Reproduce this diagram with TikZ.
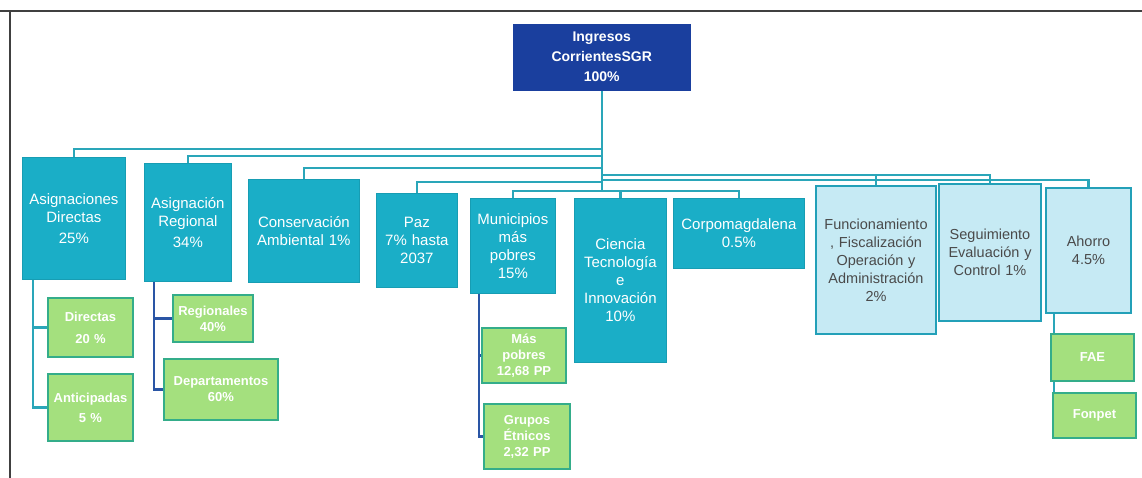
\documentclass[tikz,border=0pt]{standalone}
\usepackage{fontspec}
\setmainfont{Liberation Sans}
\usetikzlibrary{backgrounds}
\definecolor{tealbox}{HTML}{1AAEC7}
\definecolor{navybox}{HTML}{1A3F9E}
\definecolor{lbluefill}{HTML}{C6EAF4}
\definecolor{lblueline}{HTML}{23A0B8}
\definecolor{greenfill}{HTML}{A4E07E}
\definecolor{greenline}{HTML}{34AD8A}
\definecolor{connteal}{HTML}{2AA6B9}
\definecolor{conndark}{HTML}{2A55A5}
\definecolor{greytext}{HTML}{4A4A4A}
\newcommand\mybox[7]{%
  \pgfmathsetmacro\mybw{#5-#3}\pgfmathsetmacro\mybh{#6-#4}\pgfmathsetmacro\mytw{#5-#3-6}%
  \node[#2,anchor=north west,minimum width=\mybw pt,minimum height=\mybh pt,text width=\mytw pt] (#1) at (#3,#4) {#7};}
\begin{document}
\begin{tikzpicture}[x=1pt,y=-1pt,
  every node/.style={inner sep=1pt,align=center},
  rootstyle/.style={fill=navybox,draw=navybox,text=white,font=\fontsize{14}{20}\selectfont\bfseries},
  tealstyle/.style={fill=tealbox,draw=tealbox!90!black,line width=0.8pt,text=white,font=\fontsize{15}{18}\selectfont},
  lbluestyle/.style={fill=lbluefill,draw=lblueline,line width=2pt,text=greytext,font=\fontsize{14.5}{18}\selectfont},
  greenstyle/.style={fill=greenfill,draw=greenline,line width=2pt,text=white,font=\fontsize{13}{16}\selectfont\bfseries},
  link/.style={draw=connteal,line width=2.2pt},
  linkdark/.style={draw=conndark,line width=2.2pt}]
\useasboundingbox (0,0) rectangle (1142,478);
% root
\mybox{root}{rootstyle}{513}{24}{690}{90}{Ingresos\\CorrientesSGR\\100\%}
% first level
\mybox{a1}{tealstyle}{22}{157}{125}{279}{Asignaciones\\Directas\\[3pt]25\%}
\mybox{a2}{tealstyle}{144}{163}{231}{281}{Asignación\\Regional\\[3pt]34\%}
\mybox{a3}{tealstyle}{248}{179}{359}{282}{Conservación\\Ambiental 1\%}
\mybox{a4}{tealstyle}{376}{193}{457}{287}{Paz\\7\% hasta\\2037}
\mybox{a5}{tealstyle}{470}{198}{555}{293}{Municipios\\más\\pobres\\15\%}
\mybox{a6}{tealstyle}{574}{198}{666}{362}{Ciencia\\Tecnología\\e\\Innovación\\10\%}
\mybox{a7}{tealstyle}{673}{198}{804}{268}{Corpomagdalena\\0.5\%}
\mybox{a8}{lbluestyle}{815}{185}{935}{333}{Funcionamiento\\, Fiscalización\\Operación y\\Administración\\2\%}
\mybox{a9}{lbluestyle}{938}{183}{1040}{320}{Seguimiento\\Evaluación y\\Control 1\%}
\mybox{a10}{lbluestyle}{1045}{187}{1130}{312}{Ahorro\\4.5\%}
% second level
\mybox{g1}{greenstyle}{47}{297}{132}{356}{Directas\\[6pt]20 \%}
\mybox{g2}{greenstyle}{47}{373}{132}{440}{Anticipadas\\[4pt]5 \%}
\mybox{g3}{greenstyle}{172}{294}{252}{341}{Regionales\\40\%}
\mybox{g4}{greenstyle}{163}{358}{277}{419}{Departamentos\\60\%}
\mybox{g5}{greenstyle}{481}{327}{565}{382}{Más\\pobres\\12,68 PP}
\mybox{g6}{greenstyle}{483}{403}{569}{468}{Grupos\\Étnicos\\2,32 PP}
\mybox{g7}{greenstyle}{1050}{333}{1133}{380}{FAE}
\mybox{g8}{greenstyle}{1052}{392}{1135}{437}{Fonpet}
\begin{pgfonlayer}{background}
  \fill[white] (0,0) rectangle (1142,478);
  \draw[black!75,line width=1.5pt] (0,11) -- (1142,11);
  \draw[black!75,line width=1.5pt] (10,11) -- (10,478);
  % first level connectors
  \draw[link] (root.south) -- ++(0,59) -| (a1.north);
  \draw[link] (root.south) -- ++(0,66) -| (a2.north);
  \draw[link] (root.south) -- ++(0,78) -| (a3.north);
  \draw[link] (root.south) -- ++(0,92) -| (a4.north);
  \draw[link] (root.south) -- ++(0,101) -| (a5.north);
  \draw[link] (root.south) -- ++(0,101) -| (a6.north);
  \draw[link] (root.south) -- ++(0,101) -| (a7.north);
  \draw[link] (root.south) -- ++(0,85) -| (a8.north);
  \draw[link] (root.south) -- ++(0,85) -| (a9.north);
  \draw[link] (root.south) -- ++(0,90) -| (a10.north);
  % second level connectors
  \draw[link] ([xshift=11pt]a1.south west) |- (g1.west);
  \draw[link] ([xshift=11pt]a1.south west) |- (g2.west);
  \draw[linkdark] ([xshift=10pt]a2.south west) |- (g3.west);
  \draw[linkdark] ([xshift=10pt]a2.south west) |- (g4.west);
  \draw[linkdark] ([xshift=9pt]a5.south west) |- (g5.west);
  \draw[linkdark] ([xshift=9pt]a5.south west) |- (g6.west);
  \draw[link] ([xshift=9pt]a10.south west) |- (g7.west);
  \draw[link] ([xshift=9pt]a10.south west) |- (g8.west);
\end{pgfonlayer}
\end{tikzpicture}
\end{document}
